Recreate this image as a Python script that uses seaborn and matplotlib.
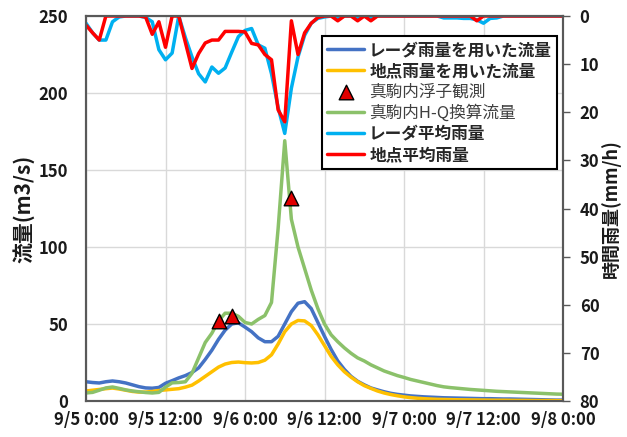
import numpy as np
import pandas as pd
import matplotlib
matplotlib.use("Agg")
import matplotlib.pyplot as plt
import seaborn as sns

# hourly values, 9/5 0:00 .. 9/8 0:00
hours = list(range(73))

radar_flow = [12.5, 12, 11.7, 12.5, 13, 12.5, 11.7, 10.5, 9.3, 8.5, 8.3, 8.8, 11.5, 13.2, 15, 16.5,
              18.5, 21.5, 27, 33, 40, 46, 50, 50.8, 48, 45, 41, 38.5, 38.5, 42, 50, 58,
              63.5, 64.5, 60, 51, 42, 33.5, 26, 20.5, 16, 12.8, 10.5, 8.5, 7.2, 6, 5, 4.3,
              3.8, 3.3, 3, 2.7, 2.5, 2.3, 2.1, 2, 1.9, 1.8, 1.7, 1.6, 1.5, 1.5, 1.4, 1.3,
              1.3, 1.2, 1.1, 1.0, 0.9, 0.8, 0.7, 0.6, 0.6]
point_flow = [6.5, 7, 7.5, 8, 8.4, 7.8, 7, 6.2, 5.8, 5.8, 6.2, 6.8, 7.2, 7.6, 8, 9,
              10.3, 13, 16, 19, 22, 24, 25, 25.3, 24.9, 24.7, 25, 26.5, 30, 37, 45, 50,
              52.3, 52, 49, 43, 36, 29, 23.5, 19, 15.5, 12.5, 10, 8.2, 6.5, 5.2, 4.2, 3.4,
              2.7, 2.2, 1.8, 1.5, 1.3, 1.1, 1.0, 0.9, 0.8, 0.75, 0.7, 0.65, 0.6, 0.55, 0.5, 0.5,
              0.45, 0.4, 0.4, 0.35, 0.3, 0.3, 0.3, 0.25, 0.2]
hq_flow = [5.2, 5.6, 7, 8.5, 9.1, 8.2, 7.2, 6.5, 6, 5.5, 5.2, 5.6, 9, 11.8, 12, 12.5,
           18, 28, 38, 44, 52, 57, 57, 55, 51, 50, 53, 55.5, 64, 112, 169, 118,
           100, 86, 72, 60, 50, 43, 38.5, 34.5, 31, 28, 26, 23.5, 21.5, 19.5, 18, 16.5,
           15.3, 14, 13, 12, 11, 10, 9.2, 8.7, 8.3, 7.9, 7.5, 7.2, 6.9, 6.6, 6.3, 6.1,
           5.9, 5.7, 5.5, 5.3, 5.1, 4.9, 4.7, 4.5, 4.4]
radar_rain = [1.5, 3.5, 5, 5, 1.2, 0.2, 0, 0, 0, 0.3, 1.2, 7, 9.1, 7.7, 0, 4.5,
              8.5, 12, 13.7, 10.6, 11.9, 10.8, 7.5, 4.3, 3.0, 2.6, 6, 6.7, 12, 19, 24.4, 15,
              8.5, 4, 1.5, 0.5, 0.2, 0, 0.5, 0, 0, 0.5, 0, 0.5, 0, 0, 0, 0,
              0, 0, 0, 0, 0, 0, 0.4, 0.4, 0.4, 0.5, 0.5, 0.8, 1.5, 0.5, 0.4, 0,
              0, 0, 0, 0, 0, 0, 0, 0, 0]
point_rain = [1.9, 3.5, 5, 0, 0, 0, 0, 0, 0, 0.2, 3.8, 1.2, 6.5, 0, 0, 5.5,
              10.9, 7.8, 5.6, 5, 5, 3.2, 3.2, 3.2, 3.3, 5.7, 6, 8, 9.1, 19.5, 22, 1,
              8, 3.5, 1.5, 0.3, 0, 0, 1, 0, 0, 1, 0, 1, 0, 0, 0, 0,
              0, 0, 0, 0, 0, 0, 0, 0, 0, 0, 0, 1, 0, 0, 0, 0,
              0, 0, 0, 0, 0, 0, 0, 0, 0]

obs_hours = [20, 22, 31]
obs_flow = [52, 55, 132]

tick_hours = [0, 12, 24, 36, 48, 60, 72]
tick_labels = ["9/5 0:00", "9/5 12:00", "9/6 0:00", "9/6 12:00", "9/7 0:00", "9/7 12:00", "9/8 0:00"]

df = pd.DataFrame({"hour": hours, "radar_flow": radar_flow, "point_flow": point_flow,
                   "hq_flow": hq_flow, "radar_rain": radar_rain, "point_rain": point_rain})
obs = pd.DataFrame({"hour": obs_hours, "flow": obs_flow})

sns.set_theme(style="white")
plt.rcParams["font.family"] = ["Noto Sans CJK JP", "DejaVu Sans"]

fig = plt.figure(figsize=(6.27, 4.37), dpi=100)
ax = fig.add_axes([86 / 627, 36 / 437, 477 / 627, 385 / 437])
ax2 = ax.twinx()

lw = 2.5
sns.lineplot(data=df, x="hour", y="radar_flow", ax=ax, color="#4472C4", lw=lw, label="レーダ雨量を用いた流量")
sns.lineplot(data=df, x="hour", y="point_flow", ax=ax, color="#FFC000", lw=lw, label="地点雨量を用いた流量")
sns.scatterplot(data=obs, x="hour", y="flow", ax=ax, marker="^", s=110, color="#E00000",
                edgecolor="black", linewidth=1, zorder=5, label="真駒内浮子観測")
sns.lineplot(data=df, x="hour", y="hq_flow", ax=ax, color="#8BC16A", lw=lw, label="真駒内H-Q換算流量")
sns.lineplot(data=df, x="hour", y="radar_rain", ax=ax2, color="#00B0F0", lw=lw, label="レーダ平均雨量")
sns.lineplot(data=df, x="hour", y="point_rain", ax=ax2, color="#FF0000", lw=lw, label="地点平均雨量")

ax.set_xlim(0, 72)
ax.set_ylim(0, 250)
ax.set_yticks(range(0, 251, 50))
ax.set_xticks(tick_hours)
ax.set_xticklabels(tick_labels)
ax2.set_ylim(80, 0)
ax2.set_yticks(range(0, 81, 10))

ax.grid(True, color="#D9D9D9", lw=1)
ax.set_axisbelow(True)
for a in (ax, ax2):
    for s in a.spines.values():
        s.set_color("#595959")
        s.set_linewidth(1.5)

ax.tick_params(axis="y", length=0, pad=13, labelsize=12)
ax.tick_params(axis="x", length=0, pad=7, labelsize=12)
ax2.tick_params(axis="y", length=5, width=1, color="#595959", pad=7, labelsize=12, right=True)
for lab in ax.get_xticklabels() + ax.get_yticklabels() + ax2.get_yticklabels():
    lab.set_fontweight("bold")
    lab.set_color("#1a1a1a")

ax.set_xlabel("")
ax.set_ylabel("流量(m3/s)", fontsize=15, fontweight="bold", color="#1a1a1a", labelpad=3)
ax2.set_ylabel("時間雨量(mm/h)", fontsize=13, fontweight="bold", color="#1a1a1a", rotation=90, labelpad=1)

h1, l1 = ax.get_legend_handles_labels()
h2, l2 = ax2.get_legend_handles_labels()
if ax.get_legend() is not None:
    ax.get_legend().remove()
leg = ax2.legend(h1 + h2, l1 + l2, loc="upper right", bbox_to_anchor=(557 / 627, 1 - 36 / 437),
                 bbox_transform=fig.transFigure, borderaxespad=0, fontsize=12, frameon=True,
                 fancybox=False, edgecolor="black", framealpha=1, handlelength=2.2,
                 handletextpad=0.3, labelspacing=0.2, borderpad=0.3)
leg.get_frame().set_linewidth(1.5)
for i, t in enumerate(leg.get_texts()):
    if i in (2, 3):
        t.set_color("#404040")
    else:
        t.set_fontweight("bold")

fig.savefig("out.png", dpi=100)
